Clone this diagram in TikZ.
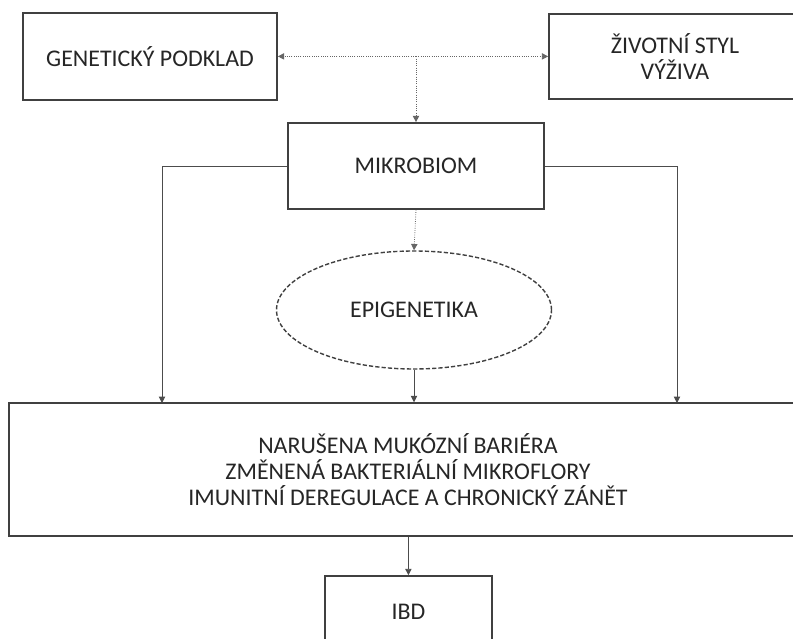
\documentclass[tikz,border=0pt]{standalone}
\usepackage{fontspec}
\setmainfont{Carlito}
\usetikzlibrary{arrows.meta,shapes.geometric}

\begin{document}
\begin{tikzpicture}[
    >={Triangle[length=4.5pt,width=4.5pt]},
    box/.style={rectangle, draw=black!75, line width=1.2pt, fill=white,
                align=center, text=black!85, font=\fontsize{17}{18.5}\selectfont},
    oval/.style={ellipse, draw=black!75, line width=1pt, dash pattern=on 3pt off 1.5pt,
                 text=black!85, font=\fontsize{17}{18.5}\selectfont},
    dotarr/.style={->, black!60, line width=0.6pt, densely dotted},
    arr/.style={->, black!70, line width=0.6pt},
]
  \useasboundingbox (0,0) rectangle (19.825,-15.975);
  \clip (0,0) rectangle (19.825,-15.975);

  % Boxes
  \node[box, minimum width=6.35cm, minimum height=2.175cm] (gen) at (3.75, -1.41) {GENETICKÝ PODKLAD};
  \node[box, minimum width=6.3cm, minimum height=2.125cm] (styl) at (16.875, -1.41) {ŽIVOTNÍ STYL\\VÝŽIVA};
  \node[box, minimum width=6.4cm, minimum height=2.15cm] (mik) at (10.4, -4.15) {MIKROBIOM};
  \node[oval, minimum width=6.875cm, minimum height=2.95cm] (epi) at (10.35, -7.75) {EPIGENETIKA};
  \node[box, minimum width=19.95cm, minimum height=3.325cm] (big) at (10.2, -11.74)
    {NARUŠENA MUKÓZNÍ BARIÉRA\\ZMĚNENÁ BAKTERIÁLNÍ MIKROFLORY\\IMUNITNÍ DEREGULACE A CHRONICKÝ ZÁNĚT};
  \node[box, minimum width=4.175cm, minimum height=1.8cm] (ibd) at (10.21, -15.3) {IBD};

  % Free ends on the big box
  \coordinate (j) at (mik.north |- gen.east);
  \coordinate (bl) at (4.05, -10.075);
  \coordinate (br) at (16.925, -10.075);

  % Connectors
  \draw[dotarr] (j) -- (gen.east);
  \draw[dotarr] (j) -- (styl.west);
  \draw[dotarr] (j) -- (mik.north);
  \draw[arr] (mik.west) -| (bl);
  \draw[arr] (mik.east) -| (br);
  \draw[dotarr] (mik.south) -- (epi.north);
  \draw[arr] (epi.south) -- (big.north -| epi.south);
  \draw[arr] (big.south -| ibd.north) -- (ibd.north);

\end{tikzpicture}
\end{document}
